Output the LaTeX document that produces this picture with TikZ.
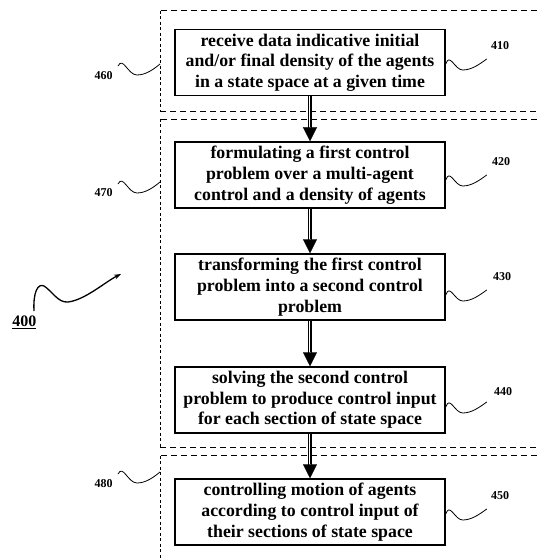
\documentclass[tikz,border=0pt]{standalone}
\usepackage{fontspec}
\setmainfont{Liberation Serif}
\usetikzlibrary{arrows.meta}
\tikzset{
  stepbox/.style={draw, line width=1.5pt, minimum width=270pt, minimum height=66pt,
    inner sep=0pt, align=center, font=\bfseries\fontsize{17.8}{20.7}\selectfont},
  numlab/.style={font=\bfseries\fontsize{12}{13}\selectfont, inner sep=0pt},
  region/.style={line width=0.9pt, dash pattern=on 6pt off 4pt},
  regionside/.style={line width=0.9pt, dash pattern=on 3pt off 2.5pt},
  shaft/.style={double, double distance=2.6pt, line width=0.9pt, shorten >=12pt},
  head/.style={line width=0.1pt, -{Triangle[length=14pt,width=14pt]}},
  leader/.style={line width=0.8pt},
  rsq/.pic={\draw[leader] (0,0) .. controls (4,-12) and (9,6) .. (17,6) .. controls (26,6) and (34,0) .. (41,-5);},
  lsq/.pic={\draw[leader] (0,0) .. controls (5,-10) and (10,9) .. (19,9) .. controls (28,9) and (36,3) .. (42,-2);}
}
\begin{document}
\begin{tikzpicture}[x=1pt, y=-1pt]
\useasboundingbox (0,0) rectangle (537,559);
% regions
\draw[region] (537,10.7) -- (160,10.7);
\draw[regionside] (160,10.7) -- (160,111);
\draw[region] (160,111) -- (537,111);
\draw[region] (537,119) -- (160,119);
\draw[regionside] (160,119) -- (160,447.5);
\draw[region] (160,447.5) -- (537,447.5);
\draw[region] (537,455.7) -- (160,455.7);
\draw[regionside] (160,455.7) -- (160,559);
% boxes
\node[stepbox] (b1) at (310,62.5) {receive data indicative initial\\and/or final density of the agents\\in a state space at a given time};
\node[stepbox] (b2) at (310,175) {formulating a first control\\problem over a multi-agent\\control and a density of agents};
\node[stepbox] (b3) at (310,287) {transforming the first control\\problem into a second control\\problem};
\node[stepbox] (b4) at (310,400) {solving the second control\\problem to produce control input\\for each section of state space};
\node[stepbox] (b5) at (310,512) {controlling motion of agents\\according to control input of\\their sections of state space};
% arrows
\foreach \a/\b in {b1/b2,b2/b3,b3/b4,b4/b5}{
  \draw[shaft] (\a.south) -- (\b.north);
  \draw[head] (\a.south) -- (\b.north);
}
% right labels
\node[numlab] (l410) at (500,46) {410};
\node[numlab] (l420) at (501,162) {420};
\node[numlab] (l430) at (502,277) {430};
\node[numlab] (l440) at (503,392) {440};
\node[numlab] (l450) at (500,496) {450};
\pic at ([yshift=-1.5pt]b1.east) {rsq};
\pic at ([yshift=-5pt]b2.east) {rsq};
\pic at ([yshift=-8pt]b3.east) {rsq};
\pic at ([yshift=-7pt]b4.east) {rsq};
\pic at ([yshift=-2pt]b5.east) {rsq};
% left labels
\node[numlab] (l460) at (103.5,75.5) {460};
\node[numlab] (l470) at (103.5,193) {470};
\node[numlab] (l480) at (103.5,484) {480};
\pic at (118,66) {lsq};
\pic at (118,184) {lsq};
\pic at (118,474) {lsq};
% 400
\node[font=\bfseries\fontsize{16}{16}\selectfont, inner sep=0pt] (l400) at (24.5,322) {\underline{400}};
\draw[leader, line width=1.3pt, -{Stealth[length=7pt,width=5pt]}] (34,311) .. controls (33,292) and (38,283) .. (44,286) .. controls (52,291) and (58,303) .. (68,302) .. controls (85,300) and (105,282) .. (121,274);
\end{tikzpicture}
\end{document}
